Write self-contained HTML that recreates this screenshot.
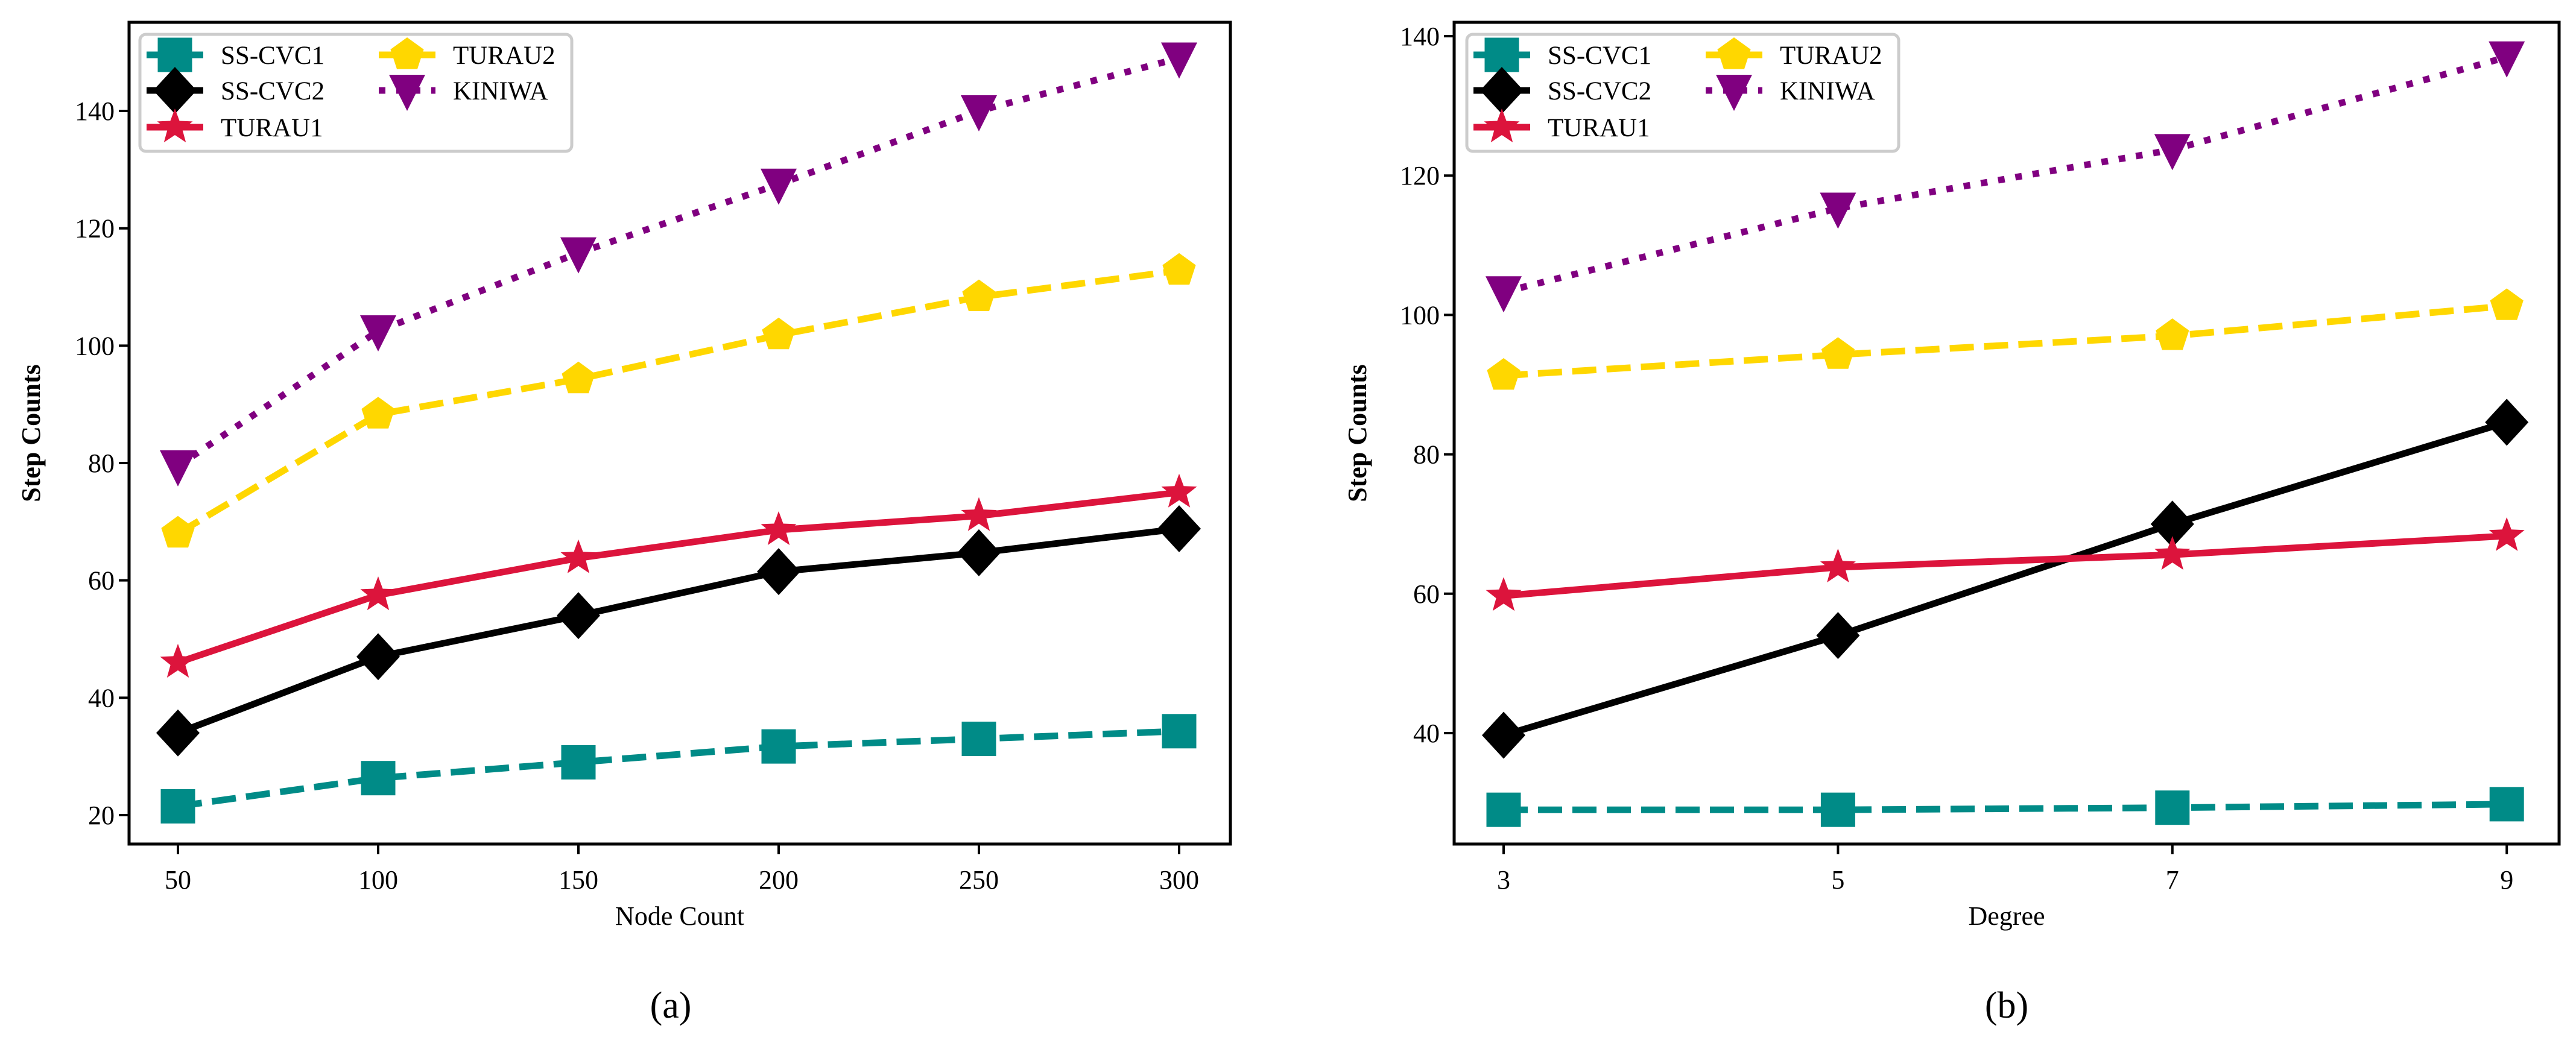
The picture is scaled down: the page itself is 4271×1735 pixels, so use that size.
<!DOCTYPE html>
<html><head><meta charset="utf-8"><style>
html,body{margin:0;padding:0;background:#fff;}
svg{display:block;font-family:"Liberation Serif",serif;}
</style></head><body>
<svg id="fig" width="4271" height="1735" viewBox="0 0 4271 1735" xmlns="http://www.w3.org/2000/svg"></svg>
<script>
const seriesNames = ["SS-CVC1","SS-CVC2","TURAU1","TURAU2","KINIWA"];
const seriesColors = ["#008b87","#000000","#dc143c","#ffd700","#800080"];
const aCategories = [50,100,150,200,250,300];
const aCvc1 = [21.5,26.3,29,31.7,33,34.3];
const aCvc2 = [34,47,54,61.5,64.7,68.8];
const aTurau1 = [46,57.5,63.8,68.6,71,75];
const aTurau2 = [68,88.3,94.3,101.8,108.3,112.8];
const aKiniwa = [79.5,102.5,115.8,127.5,140,149];
const aYTicks = [20,40,60,80,100,120,140];
const bCategories = [3,5,7,9];
const bCvc1 = [29,29,29.3,29.8];
const bCvc2 = [39.7,54,70,84.6];
const bTurau1 = [59.7,63.8,65.6,68.3];
const bTurau2 = [91.3,94.3,97,101.3];
const bKiniwa = [103.3,115.3,123.7,137];
const bYTicks = [40,60,80,100,120,140];

const NS="http://www.w3.org/2000/svg";
const svg=document.getElementById('fig');
function mk(tag,attrs,parent){const e=document.createElementNS(NS,tag);for(const k in attrs)e.setAttribute(k,attrs[k]);(parent||svg).appendChild(e);return e;}
const dashes=["40,17","","","40,17","11,18"];

function marker(g,i,x,y){
  const c=seriesColors[i];let m;
  if(i===0){m=mk('rect',{x:x-28.5,y:y-28.5,width:57,height:57,fill:c},g);}
  else if(i===1){m=mk('polygon',{points:`${x},${y-39} ${x+36},${y} ${x},${y+39} ${x-36},${y}`,fill:c},g);}
  else if(i===2){let p=[];for(let k=0;k<10;k++){const r=k%2?13:31;const a=-Math.PI/2+k*Math.PI/5;p.push((x+r*Math.cos(a)).toFixed(1)+','+(y+r*Math.sin(a)).toFixed(1));}m=mk('polygon',{points:p.join(' '),fill:c},g);}
  else if(i===3){let p=[];for(let k=0;k<5;k++){const a=-Math.PI/2+k*2*Math.PI/5;p.push((x+29*Math.cos(a)).toFixed(1)+','+(y+29*Math.sin(a)).toFixed(1));}m=mk('polygon',{points:p.join(' '),fill:c},g);}
  else {m=mk('polygon',{points:`${x-30},${y-26} ${x+30},${y-26} ${x},${y+34}`,fill:c},g);}
  return m;
}

function panel(o){
  const g=mk('g',{});
  
  
  const X=v=>o.x0+(v-o.xa)*o.xs, Y=v=>o.y0-(v-o.ya)*o.ys;
  o.yTicks.forEach(t=>{
    const l=mk('line',{x1:o.left-17,x2:o.left,y1:Y(t),y2:Y(t),stroke:'#000','stroke-width':4},g);
    
    
    const tx=mk('text',{x:o.left-24,y:Y(t)+15,'font-size':44,'text-anchor':'end'},g);tx.textContent=t;
    
    
  });
  o.cats.forEach(t=>{
    const l=mk('line',{x1:X(t),x2:X(t),y1:o.bottom,y2:o.bottom+17,stroke:'#000','stroke-width':4},g);
    
    
    const tx=mk('text',{x:X(t),y:o.bottom+74,'font-size':44,'text-anchor':'middle'},g);tx.textContent=t;
    
    
  });
  o.series.forEach((vals,i)=>{
    const sg=mk('g',{},g);
    
    
    const pts=vals.map((v,j)=>X(o.cats[j]).toFixed(1)+','+Y(v).toFixed(1)).join(' ');
    const pl=mk('polyline',{points:pts,fill:'none',stroke:seriesColors[i],'stroke-width':11,'stroke-dasharray':dashes[i]},sg);
    
    
    vals.forEach((v,j)=>{const m=marker(sg,i,X(o.cats[j]),Y(v));
      
      });
  });
  const fr=mk('rect',{x:o.left,y:o.top,width:o.right-o.left,height:o.bottom-o.top,fill:'none',stroke:'#000','stroke-width':5},g);
  
  
  const lg=mk('g',{},g);
  
  
  mk('rect',{x:o.lx,y:57,width:716,height:194,rx:10,fill:'#fff',stroke:'#cccccc','stroke-width':5},lg);
  const rows=[91,150,211,91,150], cols=[0,0,0,1,1];
  seriesNames.forEach((n,i)=>{
    const hx=o.lx+(cols[i]?443:58), ty=rows[i];
    const e=mk('g',{},lg);
    
    
    mk('line',{x1:hx-47,x2:hx+47,y1:ty,y2:ty,stroke:seriesColors[i],'stroke-width':11,'stroke-dasharray':dashes[i]==='40,17'?'':dashes[i]},e);
    marker(e,i,hx,ty);
    const t=mk('text',{x:hx+76,y:ty+15,'font-size':43},e);t.textContent=n;
  });
  const yl=mk('text',{x:o.ylx,y:(o.top+o.bottom)/2,'font-size':44,'font-weight':'bold','text-anchor':'middle',transform:`rotate(-90 ${o.ylx} ${(o.top+o.bottom)/2})`},g);
  yl.textContent='Step Counts';
  
  
  const xl=mk('text',{x:(o.left+o.right)/2,y:1534,'font-size':44,'text-anchor':'middle'},g);
  xl.textContent=o.xlabel;
  
  
  const cap=mk('text',{x:(o.left+o.right)/2+(o.name==='panel-a'?-15:0),y:1688,'font-size':62,'text-anchor':'middle'},g);
  cap.textContent=o.cap;
  
  
}
panel({name:'panel-a',left:214,right:2040,top:37,bottom:1400,x0:295,xa:50,xs:6.64,y0:1352,ya:20,ys:9.733,
  cats:aCategories,series:[aCvc1,aCvc2,aTurau1,aTurau2,aKiniwa],yTicks:aYTicks,lx:232,ylx:66,xlabel:'Node Count',cap:'(a)'});
panel({name:'panel-b',left:2411,right:4243,top:37,bottom:1400,x0:2493,xa:3,xs:277.2,y0:1216,ya:40,ys:11.56,
  cats:bCategories,series:[bCvc1,bCvc2,bTurau1,bTurau2,bKiniwa],yTicks:bYTicks,lx:2432,ylx:2265,xlabel:'Degree',cap:'(b)'});
</script>
</body></html>
